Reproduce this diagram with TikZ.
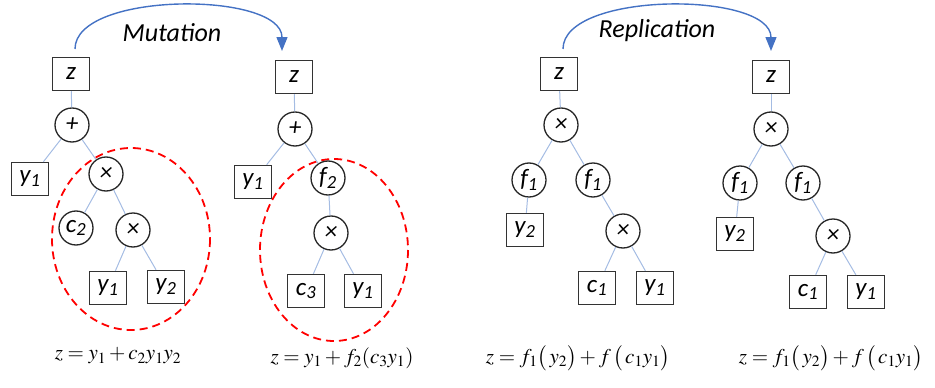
\documentclass[tikz,border=0pt]{standalone}
\usepackage{mathptmx}
\usepackage{fontspec}
\setmainfont{Carlito}
\usetikzlibrary{arrows.meta}
\definecolor{edgeblue}{HTML}{A4BCE3}
\definecolor{flowblue}{HTML}{4472C4}
\newcommand\subx[1]{\textsubscript{#1}}
\begin{document}
\begin{tikzpicture}[x=1pt,y=-1pt,
  box/.style={draw=black!80, line width=1.5pt, minimum width=37pt, minimum height=33pt, inner sep=0pt, fill=white, font=\fontsize{25}{27}\selectfont\itshape},
  op/.style={circle, draw=black!85, line width=1.3pt, minimum size=34pt, inner sep=0pt, fill=white, font=\fontsize{25}{27}\selectfont\itshape},
  edge/.style={draw=edgeblue, line width=1pt},
  ring/.style={draw=red, dash pattern=on 8pt off 5pt, line width=1.8pt},
  flow/.style={draw=flowblue, line width=1.4pt, -{Triangle[length=14pt,width=11pt]}},
  lab/.style={font=\fontsize{26}{28}\selectfont\itshape},
  formula/.style={font=\fontsize{21}{23}\selectfont}]
\useasboundingbox (0,0) rectangle (935,388);
% ellipses
\draw[ring] (131,239) ellipse [x radius=79, y radius=91];
\draw[ring] (334,250) ellipse [x radius=74, y radius=91];
% tree 1
\node[box] (a1) at (71,74) {z};
\node[op] (a2) at (72,125) {+};
\node[box] (a3) at (30,179) {y\subx{1}};
\node[op] (a4) at (106,174) {×};
\node[op] (a5) at (76,228) {c\subx{2}};
\node[op] (a6) at (133,230) {×};
\node[box] (a7) at (108,288) {y\subx{1}};
\node[box] (a8) at (166,287) {y\subx{2}};
% tree 2
\node[box] (b1) at (294,77) {z};
\node[op] (b2) at (295,129) {+};
\node[box] (b3) at (253,182) {y\subx{1}};
\node[op] (b4) at (328,178) {f\subx{2}};
\node[op] (b5) at (331,233) {×};
\node[box] (b6) at (306,291) {c\subx{3}};
\node[box] (b7) at (363,291) {y\subx{1}};
% tree 3
\node[box] (c1) at (559,74) {z};
\node[op] (c2) at (561,125) {×};
\node[op] (c3) at (529,180) {f\subx{1}};
\node[op] (c4) at (593,180) {f\subx{1}};
\node[box] (c5) at (525,230) {y\subx{2}};
\node[op] (c6) at (623,231) {×};
\node[box] (c7) at (597,288) {c\subx{1}};
\node[box] (c8) at (655,288) {y\subx{1}};
% tree 4
\node[box] (d1) at (771,77) {z};
\node[op] (d2) at (771,129) {×};
\node[op] (d3) at (740,183) {f\subx{1}};
\node[op] (d4) at (803,183) {f\subx{1}};
\node[box] (d5) at (735,234) {y\subx{2}};
\node[op] (d6) at (833,236) {×};
\node[box] (d7) at (808,292) {c\subx{1}};
\node[box] (d8) at (866,292) {y\subx{1}};
% edges
\draw[edge] (a1) -- (a2);
\draw[edge] (a2) -- (a3);
\draw[edge] (a2) -- (a4);
\draw[edge] (a4) -- (a5);
\draw[edge] (a4) -- (a6);
\draw[edge] (a6) -- (a7);
\draw[edge] (a6) -- (a8);
\draw[edge] (b1) -- (b2);
\draw[edge] (b2) -- (b3);
\draw[edge] (b2) -- (b4);
\draw[edge] (b4) -- (b5);
\draw[edge] (b5) -- (b6);
\draw[edge] (b5) -- (b7);
\draw[edge] (c1) -- (c2);
\draw[edge] (c2) -- (c3);
\draw[edge] (c2) -- (c4);
\draw[edge] (c3) -- (c5);
\draw[edge] (c4) -- (c6);
\draw[edge] (c6) -- (c7);
\draw[edge] (c6) -- (c8);
\draw[edge] (d1) -- (d2);
\draw[edge] (d2) -- (d3);
\draw[edge] (d2) -- (d4);
\draw[edge] (d3) -- (d5);
\draw[edge] (d4) -- (d6);
\draw[edge] (d6) -- (d7);
\draw[edge] (d6) -- (d8);
% arrows
\coordinate (m1) at (75,49);
\coordinate (m2) at (282,51);
\coordinate (r1) at (563,49);
\coordinate (r2) at (771,51);
\draw[flow] (m1) .. controls (75,-9) and (282,-9) .. (m2);
\draw[flow] (r1) .. controls (563,-9) and (771,-9) .. (r2);
\node[lab] (ml) at (172,33) {Mutation};
\node[lab] (rl) at (657,31) {Replication};
% formulas
\node[formula] (f1) at (118,356) {$z = y_1 + c_2 y_1 y_2$};
\node[formula] (f2) at (342,358) {$z = y_1 + f_2(c_3 y_1)$};
\node[formula] (f3) at (578,358) {$z = f_1\bigl(\,y_2\bigr) + f\,\bigl(\,c_1 y_1\bigr)$};
\node[formula] (f4) at (831,358) {$z = f_1\bigl(\,y_2\bigr) + f\,\bigl(\,c_1 y_1\bigr)$};
\end{tikzpicture}
\end{document}
